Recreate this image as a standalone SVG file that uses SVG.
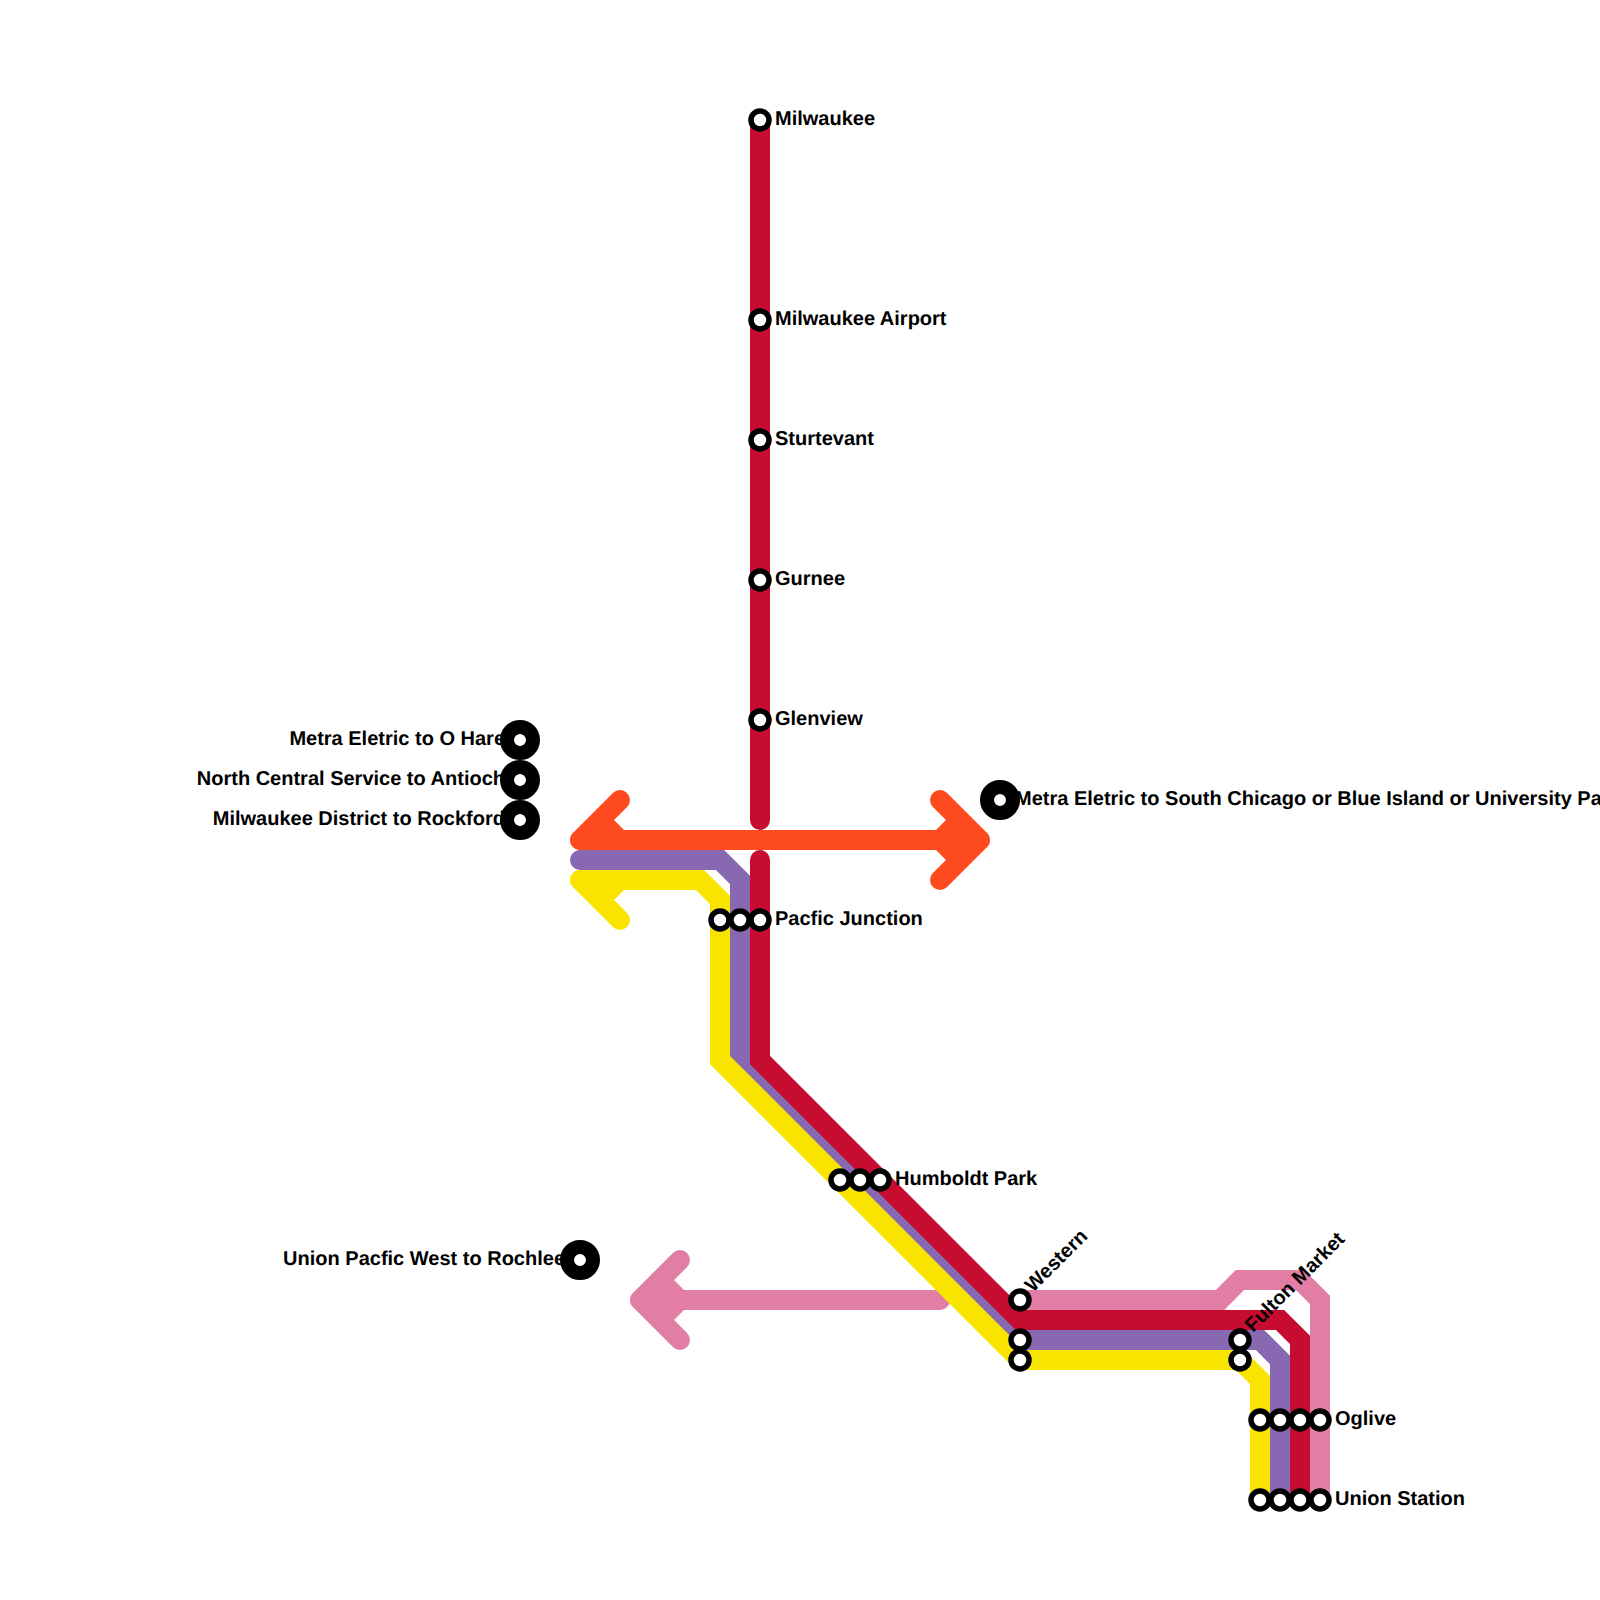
<svg xmlns="http://www.w3.org/2000/svg" width="1600" height="1600" viewBox="0 0 1600 1600">
<style>
.l{fill:none;stroke-width:20;stroke-linecap:round;stroke-linejoin:miter}
.h{fill:none;stroke-width:20;stroke-linecap:round;stroke-linejoin:round}
.o{stroke:#fd4a1f}.p{stroke:#8868b0}.y{stroke:#f9e400}.r{stroke:#c60c30}.k{stroke:#e27ea6}
.of{fill:#fd4a1f}.yf{fill:#f9e400}.kf{fill:#e27ea6}
.s{fill:#fff;stroke:#000;stroke-width:5.5}
.b{fill:#fff;stroke:#000;stroke-width:14}
text{font-family:"Liberation Sans",Arial,sans-serif;font-weight:700;font-size:20px;fill:#000;text-rendering:geometricPrecision}
.e{text-anchor:end}
</style>
<g id="connectors">
<path class="l k" d="M1020 1300H1220L1240 1280H1300L1320 1300V1500"/>
<path class="l k" d="M940 1300H640"/>
<path class="h k" d="M680 1260L640 1300L680 1340"/>
<polygon class="kf" points="640,1300 674,1280 684,1290 684,1310 674,1320"/>
<path class="l o" d="M580 840H980"/>
<path class="h o" d="M620 800L580 840M940 800L980 840L940 880"/>
<polygon class="of" points="580,840 614,820 624,830 624,850 580,850"/>
<polygon class="of" points="980,840 946,820 936,830 936,850 946,860"/>
<path class="l p" d="M580 860H720L740 880V1060L1020 1340H1260L1280 1360V1500"/>
<path class="h y" d="M620 920L580 880"/>
<polygon class="yf" points="580,880 580,870 624,870 624,890 614,900"/>
<path class="l y" d="M580 880H700L720 900V1060L1020 1360H1240L1260 1380V1500"/>
<path class="l r" d="M760 120V820"/>
<path class="l r" d="M760 860V1060L1020 1320H1280L1300 1340V1500"/>
</g>
<g id="n-milwaukee"><circle class="s" cx="760" cy="120" r="9"/><text x="775" y="125">Milwaukee</text></g>
<g id="n-milwaukee-airport"><circle class="s" cx="760" cy="320" r="9"/><text x="775" y="325">Milwaukee Airport</text></g>
<g id="n-sturtevant"><circle class="s" cx="760" cy="440" r="9"/><text x="775" y="445">Sturtevant</text></g>
<g id="n-gurnee"><circle class="s" cx="760" cy="580" r="9"/><text x="775" y="585">Gurnee</text></g>
<g id="n-glenview"><circle class="s" cx="760" cy="720" r="9"/><text x="775" y="725">Glenview</text></g>
<g id="n-pacific"><circle class="s" cx="720" cy="920" r="9"/><circle class="s" cx="740" cy="920" r="9"/><circle class="s" cx="760" cy="920" r="9"/><text x="775" y="925">Pacfic Junction</text></g>
<g id="n-humboldt"><circle class="s" cx="840" cy="1180" r="9"/><circle class="s" cx="860" cy="1180" r="9"/><circle class="s" cx="880" cy="1180" r="9"/><text x="895" y="1185">Humboldt Park</text></g>
<g id="n-western"><circle class="s" cx="1020" cy="1360" r="9"/><circle class="s" cx="1020" cy="1340" r="9"/><circle class="s" cx="1020" cy="1300" r="9"/><text transform="translate(1033 1293) rotate(-45)">Western</text></g>
<g id="n-fulton"><circle class="s" cx="1240" cy="1360" r="9"/><circle class="s" cx="1240" cy="1340" r="9"/><text transform="translate(1253 1333) rotate(-45)">Fulton Market</text></g>
<g id="n-oglive"><circle class="s" cx="1260" cy="1420" r="9"/><circle class="s" cx="1280" cy="1420" r="9"/><circle class="s" cx="1300" cy="1420" r="9"/><circle class="s" cx="1320" cy="1420" r="9"/><text x="1335" y="1425">Oglive</text></g>
<g id="n-union"><circle class="s" cx="1260" cy="1500" r="9"/><circle class="s" cx="1280" cy="1500" r="9"/><circle class="s" cx="1300" cy="1500" r="9"/><circle class="s" cx="1320" cy="1500" r="9"/><text x="1335" y="1505">Union Station</text></g>
<g id="n-ohare"><text class="e" x="505" y="745">Metra Eletric to O Hare</text><circle class="b" cx="520" cy="740" r="13"/></g>
<g id="n-antioch"><text class="e" x="505" y="785">North Central Service to Antioch</text><circle class="b" cx="520" cy="780" r="13"/></g>
<g id="n-rockford"><text class="e" x="505" y="825">Milwaukee District to Rockford</text><circle class="b" cx="520" cy="820" r="13"/></g>
<g id="n-south"><circle class="b" cx="1000" cy="800" r="13"/><text x="1015" y="805">Metra Eletric to South Chicago or Blue Island or University Park</text></g>
<g id="n-rochlee"><text class="e" x="565" y="1265">Union Pacfic West to Rochlee</text><circle class="b" cx="580" cy="1260" r="13"/></g>
</svg>
